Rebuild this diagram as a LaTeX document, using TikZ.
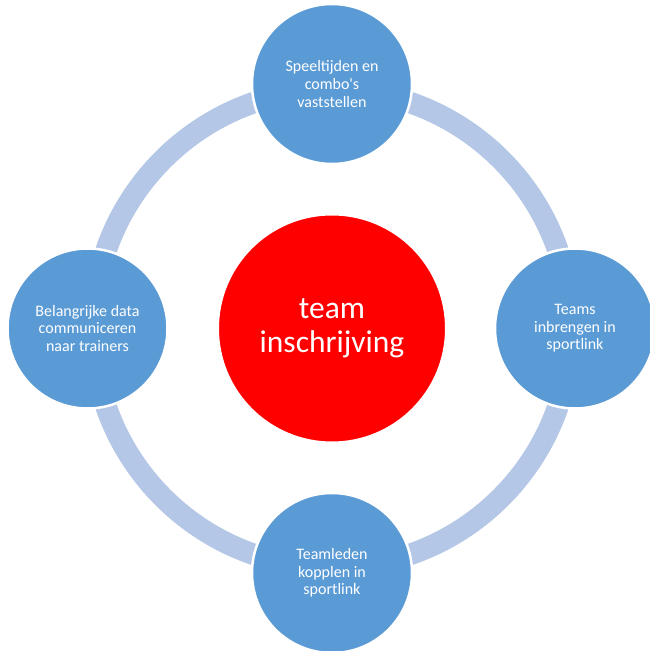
\documentclass[tikz,border=0pt]{standalone}
\usepackage{fontspec}
\setmainfont{Carlito}
\usetikzlibrary{calc}
\definecolor{nodeblue}{HTML}{5B9BD5}
\definecolor{ringblue}{HTML}{B4C7E7}
\begin{document}
\begin{tikzpicture}[x=1pt,y=1pt,
  outernode/.style={circle, fill=nodeblue, draw=white, line width=2.5pt, minimum size=160pt, inner sep=0pt, align=center, text=white, font=\fontsize{16}{17.6}\selectfont},
  corenode/.style={circle, fill=red, draw=white, line width=2pt, minimum size=228pt, inner sep=0pt, align=center, text=white, font=\fontsize{31.5}{34}\selectfont},
  ringarc/.style={draw=ringblue, line width=21.5pt}]
\useasboundingbox (0,0) rectangle (649,651);
\coordinate (c) at (332,322.5);
\coordinate (r1) at ($(c)+(90:239pt)$);
\coordinate (r2) at ($(c)+(0:239pt)$);
\coordinate (r3) at ($(c)+(-90:239pt)$);
\coordinate (r4) at ($(c)+(180:239pt)$);
\draw[ringarc] (r1) arc[start angle=90, end angle=0, radius=239pt];
\draw[ringarc] (r2) arc[start angle=0, end angle=-90, radius=239pt];
\draw[ringarc] (r3) arc[start angle=-90, end angle=-180, radius=239pt];
\draw[ringarc] (r4) arc[start angle=180, end angle=90, radius=239pt];
\node[corenode] (core) at (c) {team\\inschrijving};
\node[outernode] (top) at (332,567) {Speeltijden en\\combo\textquotesingle s\\vaststellen};
\node[outernode] (right) at (575,322.5) {Teams\\inbrengen in\\sportlink};
\node[outernode] (bottom) at (332,78) {Teamleden\\kopplen in\\sportlink};
\node[outernode] (left) at (87.5,322.5) {Belangrijke data\\communiceren\\naar trainers};
\end{tikzpicture}
\end{document}
